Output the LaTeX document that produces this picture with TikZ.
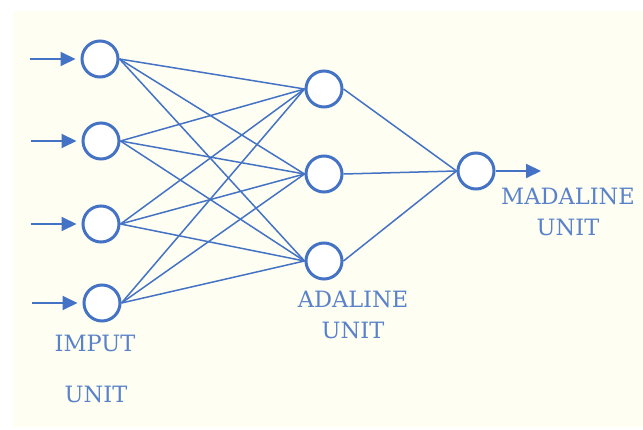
\documentclass[tikz,border=0pt]{standalone}
\usepackage{fontspec}
\setmainfont{DejaVu Serif}
\usetikzlibrary{arrows.meta}
\definecolor{netblue}{HTML}{4472C4}
\definecolor{labelblue}{HTML}{5A82CA}
\definecolor{paper}{HTML}{FEFEF2}
\begin{document}
\begin{tikzpicture}[x=1pt,y=-1pt,
  neuron/.style={circle,draw=netblue,line width=3pt,fill=white,minimum size=36pt,inner sep=0pt},
  link/.style={draw=netblue,line width=1.5pt},
  feed/.style={draw=netblue,line width=2pt,-{Triangle[length=15pt,width=14pt]}},
  tag/.style={text=labelblue,font=\fontsize{22.5}{31}\selectfont,align=center,inner sep=0pt}]
  % canvas
  \fill[white] (0,0) rectangle (643,430);
  \fill[paper] (13,11) rectangle (643,427);
  \useasboundingbox (0,0) rectangle (643,430);
  % input layer
  \node[neuron] (i1) at (100,59) {};
  \node[neuron] (i2) at (101,141) {};
  \node[neuron] (i3) at (101,224) {};
  \node[neuron] (i4) at (102,303) {};
  % adaline layer
  \node[neuron] (h1) at (324,89) {};
  \node[neuron] (h2) at (324,174) {};
  \node[neuron] (h3) at (324,261) {};
  % madaline output
  \node[neuron] (o) at (476,171) {};
  % input arrows, stopping just short of each circle
  \foreach \k in {1,...,4} {
    \coordinate (s\k) at ([xshift=-51pt]i\k.west);
    \coordinate (t\k) at ([xshift=-5pt]i\k.west);
    \draw[feed] (s\k) -- (t\k);
  }
  % full connections input -> adaline
  \foreach \a in {1,...,4}
    \foreach \b in {1,2,3}
      \draw[link] (i\a.east) -- (h\b.west);
  % adaline -> madaline
  \foreach \b in {1,2,3}
    \draw[link] (h\b.east) -- (o.west);
  % output arrow
  \coordinate (out) at (541,171);
  \draw[feed] (o.east) -- (out);
  % labels
  \node[tag] (lin) at (95,343) {IMPUT};
  \node[tag] (lin2) at (96,394) {UNIT};
  \node[tag] (lad) at (353,315) {ADALINE\\UNIT};
  \node[tag] (lmad) at (568,212) {MADALINE\\UNIT};
\end{tikzpicture}
\end{document}
